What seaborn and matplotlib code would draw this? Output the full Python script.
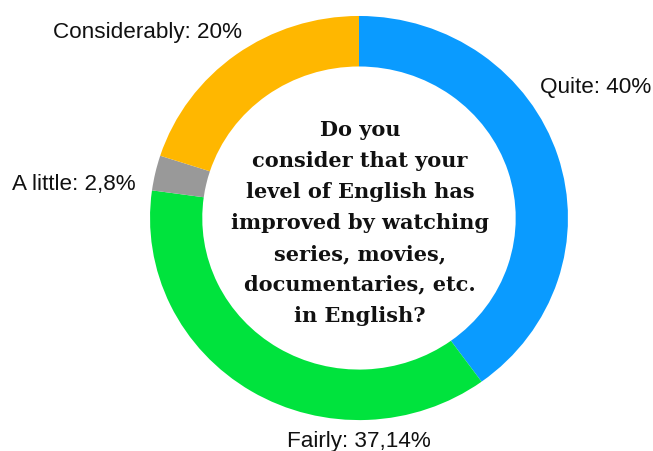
import matplotlib
matplotlib.use("Agg")
import matplotlib.pyplot as plt
import seaborn as sns

# Data (clockwise from the top)
categories = ["Quite", "Fairly", "A little", "Considerably"]
values = [40.0, 37.14, 2.8, 20.0]
value_labels = ["40%", "37,14%", "2,8%", "20%"]
colors_hex = ["#0A9BFF", "#00E33D", "#999999", "#FFB700"]
question = ("Do you\nconsider that your\nlevel of English has\nimproved by watching\n"
            "series, movies,\ndocumentaries, etc.\nin English?")

sns.set_theme(style="white")
plt.rcParams['font.family'] = ['Liberation Sans', 'DejaVu Sans']
palette = sns.color_palette(colors_hex)

fig = plt.figure(figsize=(6.53, 4.52), dpi=100)
ax = fig.add_axes([0, 0, 1, 1])
ax.pie(values, colors=palette, startangle=90, counterclock=False,
       radius=1.0, wedgeprops=dict(width=0.25, edgecolor='none', linewidth=0))
ax.set_aspect('auto')
ax.set_xlim(-1.718, 1.407)
ax.set_ylim(-1.153, 1.084)
ax.axis('off')

def px(x, y):
    return ((x - 359) / 209.0, (219 - y) / 202.0)

label_pos = {
    "Quite": (596, 88, 'center'),
    "Fairly": (359, 441, 'center'),
    "A little": (74, 184, 'center'),
    "Considerably": (147, 33, 'center'),
}
for cat, vl in zip(categories, value_labels):
    x, y, ha = label_pos[cat]
    ax.text(*px(x, y), f"{cat}: {vl}", ha=ha, va='center', fontsize=16.2, color='#111111')

ax.text(*px(360, 223), question, ha='center', va='center', fontsize=15,
        fontweight='bold', family=['DejaVu Serif'], linespacing=1.68, color='#111111')

fig.savefig("out.png", dpi=100)
